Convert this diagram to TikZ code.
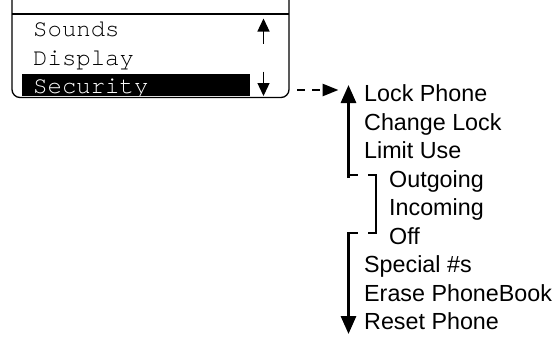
\documentclass[tikz,border=0pt]{standalone}
\usepackage{fontspec}
\setmainfont{Liberation Sans}
\newfontfamily\monofont{TeX Gyre Cursor}
\usetikzlibrary{arrows.meta}
\begin{document}
\begin{tikzpicture}[x=1pt,y=-1pt,
  menutext/.style={anchor=base west,inner sep=0pt,font=\fontsize{23.3}{28}\selectfont},
  screentext/.style={anchor=base west,inner sep=0pt,font=\monofont\fontsize{24}{28}\selectfont},
  frame/.style={line width=1.3pt},
  scrollarrow/.style={line width=1.3pt,-{Triangle[width=12pt,length=13pt]}},
  bigarrow/.style={line width=3pt,-{Triangle[width=15pt,length=18pt]}},
  bracketline/.style={line width=2.8pt},
  dasharrow/.style={line width=2.7pt,dash pattern=on 7.5pt off 7.5pt,-{Triangle[width=12pt,length=16pt]}}]
\useasboundingbox (0,0) rectangle (559,338);
% screen frame
\draw[frame,rounded corners=8pt] (12,0) -- (12,97.5) -- (289,97.5) -- (289,0);
\draw[frame] (12,14) -- (289,14);
% screen lines
\node[screentext] (sounds) at (33,36.7) {Sounds};
\node[screentext] (display) at (33,65.2) {Display};
\fill (22,74) rectangle (250,95.5);
\begin{scope}
  \clip (22,74) rectangle (250,95.5);
  \node[screentext,text=white] (security) at (33,93.7) {Security};
\end{scope}
% scroll arrows
\coordinate (upa) at (263.5,43.5);
\coordinate (upb) at (263.5,18.5);
\draw[scrollarrow] (upa) -- (upb);
\coordinate (dna) at (263.5,71.5);
\coordinate (dnb) at (263.5,96);
\draw[scrollarrow] (dna) -- (dnb);
% menu items
\node[menutext] (lock) at (364,101.7) {Lock Phone};
\node[menutext] (change) at (364,130.2) {Change Lock};
\node[menutext] (limit) at (364,158.7) {Limit Use};
\node[menutext] (out) at (389,187.2) {Outgoing};
\node[menutext] (inc) at (389,215.7) {Incoming};
\node[menutext] (off) at (389,244.2) {Off};
\node[menutext] (special) at (364,272.7) {Special \#s};
\node[menutext] (erase) at (364,301.2) {Erase PhoneBook};
\node[menutext] (reset) at (364,329.7) {Reset Phone};
% dashed arrow from screen to menu
\coordinate (ds) at (297,90);
\coordinate (de) at (338.5,90);
\draw[dasharrow] (ds) -- (de);
% big up / down arrows
\coordinate (ua) at (348.5,178);
\coordinate (ub) at (348.5,85);
\draw[bigarrow] (ua) -- (ub);
\coordinate (da) at (348.5,232);
\coordinate (db) at (348.5,334);
\draw[bigarrow] (da) -- (db);
% bracket with dashes
\draw[bracketline] (347,175) -- (357.7,175);
\draw[bracketline] (368,175) -- (376,175) -- (376,233) -- (368,233);
\draw[bracketline] (357.7,233) -- (347,233);
\end{tikzpicture}
\end{document}
